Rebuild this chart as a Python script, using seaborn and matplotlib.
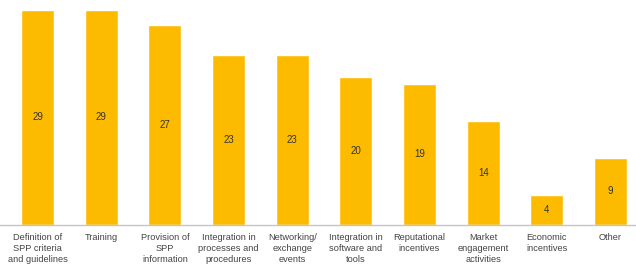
import matplotlib
matplotlib.use("Agg")
import matplotlib.pyplot as plt
import seaborn as sns
import pandas as pd

categories = [
    "Definition of\nSPP criteria\nand guidelines",
    "Training",
    "Provision of\nSPP\ninformation",
    "Integration in\nprocesses and\nprocedures",
    "Networking/\nexchange\nevents",
    "Integration in\nsoftware and\ntools",
    "Reputational\nincentives",
    "Market\nengagement\nactivities",
    "Economic\nincentives",
    "Other",
]
values = [29, 29, 27, 23, 23, 20, 19, 14, 4, 9]

df = pd.DataFrame({"category": categories, "value": values})

sns.set_style("white")
plt.rcParams["font.family"] = ["Liberation Sans", "DejaVu Sans"]

fig = plt.figure(figsize=(6.36, 2.68), dpi=100)
ax = fig.add_axes([0.0, 0.162, 1.0, 0.800])

sns.barplot(data=df, x="category", y="value", color="#FDBB00", saturation=1,
            width=0.52, ax=ax)

for i, v in enumerate(values):
    ax.text(i, v / 2, str(v), ha="center", va="center", fontsize=7,
            color="#333333")

ax.set_xlim(-0.59, 9.40)
ax.set_ylim(0, 29)
ax.set_xlabel("")
ax.set_ylabel("")
ax.set_yticks([])
for s in ["top", "right", "left"]:
    ax.spines[s].set_visible(False)
ax.spines["bottom"].set_color("#c4c4c4")
ax.spines["bottom"].set_linewidth(1.0)
ax.tick_params(axis="x", length=0, pad=6, labelsize=6.7, colors="#444444")
for lbl in ax.get_xticklabels():
    lbl.set_linespacing(1.28)

fig.savefig("out.png", dpi=100)
